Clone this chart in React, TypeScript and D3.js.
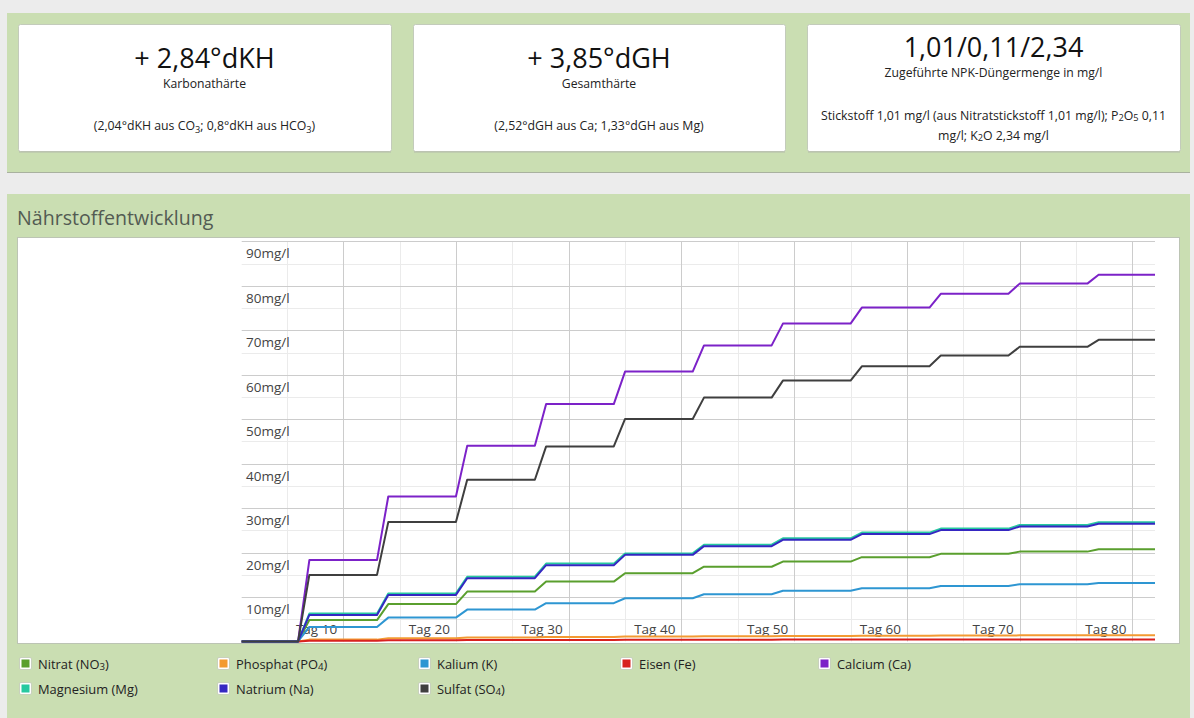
import React from "react";
import * as d3 from "d3";

// ---------- data ----------
const doseDays = [7, 14, 21, 28, 35, 42, 49, 56, 63, 70, 77];
const firstDay = 1;
const lastDay = 82;

const nitrat = [4.8, 8.4, 11.2, 13.45, 15.35, 16.8, 17.95, 18.95, 19.7, 20.2, 20.75];
const phosphat = [0.4, 0.7, 0.9, 1.0, 1.1, 1.18, 1.24, 1.29, 1.33, 1.36, 1.38];
const kalium = [3.25, 5.35, 7.15, 8.6, 9.7, 10.6, 11.4, 11.97, 12.48, 12.87, 13.16];
const eisen = [0.15, 0.25, 0.3, 0.34, 0.37, 0.39, 0.41, 0.42, 0.43, 0.44, 0.45];
const calcium = [18.3, 32.6, 44.0, 53.4, 60.7, 66.6, 71.5, 75.1, 78.2, 80.5, 82.5];
const magnesium = [6.25, 10.8, 14.55, 17.5, 19.8, 21.75, 23.2, 24.48, 25.38, 26.2, 26.8];
const natrium = [5.95, 10.46, 14.22, 17.15, 19.47, 21.43, 22.85, 24.14, 25.04, 25.85, 26.46];
const sulfat = [14.96, 26.84, 36.37, 43.88, 50.05, 54.85, 58.68, 61.9, 64.32, 66.28, 67.86];

const seriesNames = [
  "Nitrat (NO_3)",
  "Phosphat (PO_4)",
  "Kalium (K)",
  "Eisen (Fe)",
  "Calcium (Ca)",
  "Magnesium (Mg)",
  "Natrium (Na)",
  "Sulfat (SO_4)",
];
const seriesValues = [nitrat, phosphat, kalium, eisen, calcium, magnesium, natrium, sulfat];
const seriesColors = ["#5a9f2e", "#f39a32", "#2e96d2", "#d8211f", "#7c22c8", "#27c9a0", "#3527c2", "#3f3f3f"];

const yTicks = [10, 20, 30, 40, 50, 60, 70, 80, 90];
const yMinor = [5, 15, 25, 35, 45, 55, 65, 75, 85];
const xTicks = [10, 20, 30, 40, 50, 60, 70, 80];
const xMinor = [5, 15, 25, 35, 45, 55, 65, 75];

const cards = [
  {
    big: "+ 2,84°dKH",
    label: "Karbonathärte",
    lines: ["(2,04°dKH aus CO_3; 0,8°dKH aus HCO_3)"],
  },
  {
    big: "+ 3,85°dGH",
    label: "Gesamthärte",
    lines: ["(2,52°dGH aus Ca; 1,33°dGH aus Mg)"],
  },
  {
    big: "1,01/0,11/2,34",
    label: "Zugeführte NPK-Düngermenge in mg/l",
    lines: ["Stickstoff 1,01 mg/l (aus Nitratstickstoff 1,01 mg/l); P_2O_5 0,11", "mg/l; K_2O 2,34 mg/l"],
  },
];

const FONT = "'Open Sans', 'Noto Sans', sans-serif";

// text with "_d" subscripts
function Rich({ text, size, shift }: { text: string; size: number; shift: number }) {
  const parts = text.split(/_(\d)/);
  const out: any[] = [];
  let lowered = false;
  parts.forEach((p, i) => {
    if (i % 2 === 0) {
      if (p || lowered) {
        out.push(
          <tspan key={i} dy={lowered ? -shift : undefined}>
            {p}
          </tspan>
        );
        lowered = false;
      }
    } else {
      out.push(
        <tspan key={i} fontSize={size * 0.75} dy={lowered ? 0 : shift}>
          {p}
        </tspan>
      );
      lowered = true;
    }
  });
  return <>{out}</>;
}

function stepPoints(levels: number[]): [number, number][] {
  const pts: [number, number][] = [
    [firstDay, 0],
    [doseDays[0] - 1, 0],
  ];
  levels.forEach((v, i) => {
    const end = i < doseDays.length - 1 ? doseDays[i + 1] - 1 : lastDay;
    pts.push([doseDays[i], v]);
    pts.push([end, v]);
  });
  return pts;
}

export default function App() {
  const W = 1194;
  const H = 718;
  const plot = { left: 241.7, right: 1155, top: 241.4, bottom: 641.4 };

  const x = d3.scaleLinear().domain([firstDay, lastDay]).range([plot.left, plot.right]);
  const y = d3.scaleLinear().domain([0, 90]).range([plot.bottom, plot.top]);
  const line = d3
    .line<[number, number]>()
    .x((d) => x(d[0]))
    .y((d) => y(d[1]));

  const cardGeom = [
    { x: 18, w: 373 },
    { x: 413, w: 372 },
    { x: 807, w: 373 },
  ];

  const legendCols = [20, 218, 419, 621, 819];
  const legendRows = [664, 689];

  return (
    <div style={{ position: "absolute", left: 0, top: 0, width: W, height: H }}>
      <svg width={W} height={H} style={{ display: "block", fontFamily: FONT }}>
        <rect x={0} y={0} width={W} height={H} fill="#ececec" />
        {/* top panel */}
        <rect x={7} y={13} width={1183} height={160} fill="#cadeb2" />
        <line x1={7} x2={1190} y1={172.5} y2={172.5} stroke="#a9b19f" strokeWidth={1} />
        {cards.map((c, i) => {
          const g = cardGeom[i];
          const cx = g.x + g.w / 2;
          const three = i === 2;
          return (
            <g key={i}>
              <rect x={g.x + 0.5} y={24.5} width={g.w} height={127} fill="#fff" stroke="#c3cbbb" rx={2} />
              <line x1={g.x + 1} x2={g.x + g.w} y1={152} y2={152} stroke="#b4bba9" />
              <text x={cx} y={three ? 57 : 68} textAnchor="middle" fontSize={27} fill="#111">
                {c.big}
              </text>
              <text x={cx} y={three ? 77 : 87.5} textAnchor="middle" fontSize={12.2} fill="#222">
                {c.label}
              </text>
              {c.lines.map((l, j) => (
                <text
                  key={j}
                  x={cx}
                  y={(three ? 120 : 130) + j * 20}
                  textAnchor="middle"
                  fontSize={12.3}
                  fill="#222"
                >
                  <Rich text={l} size={12.3} shift={three ? 1 : 3} />
                </text>
              ))}
            </g>
          );
        })}

        {/* bottom panel */}
        <rect x={7} y={194} width={1183} height={H - 194} fill="#cadeb2" />
        <text x={17} y={225} fontSize={19.6} fill="#535b53">
          Nährstoffentwicklung
        </text>
        <rect x={17.5} y={237.5} width={1162} height={406} fill="#fff" stroke="#bcc4b4" />

        {/* grid */}
        {yMinor.map((v) => (
          <line key={"ym" + v} x1={plot.left} x2={plot.right} y1={Math.round(y(v)) + 0.5} y2={Math.round(y(v)) + 0.5} stroke="#ebebeb" />
        ))}
        {xMinor.map((d) => (
          <line key={"xm" + d} x1={Math.round(x(d)) + 0.5} x2={Math.round(x(d)) + 0.5} y1={plot.top} y2={plot.bottom} stroke="#ebebeb" />
        ))}
        {yTicks.map((v) => (
          <line key={"y" + v} x1={plot.left} x2={plot.right} y1={Math.round(y(v)) + 0.5} y2={Math.round(y(v)) + 0.5} stroke="#cccccc" />
        ))}
        {xTicks.map((d) => (
          <line key={"x" + d} x1={Math.round(x(d)) + 0.5} x2={Math.round(x(d)) + 0.5} y1={plot.top} y2={plot.bottom} stroke="#cccccc" />
        ))}

        {/* axis labels */}
        {yTicks.map((v) => (
          <text key={"yl" + v} x={246} y={y(v) + 17} fontSize={13.5} fill="#444">
            {v}mg/l
          </text>
        ))}
        {xTicks.map((d) => (
          <text key={"xl" + d} x={x(d) - 6} y={634} fontSize={13.5} fill="#444" textAnchor="end">
            Tag {d}
          </text>
        ))}

        {/* series */}
        {seriesValues.map((vals, i) => (
          <path
            key={"s" + i}
            d={line(stepPoints(vals)) || ""}
            fill="none"
            stroke={seriesColors[i]}
            strokeWidth={2}
            strokeLinejoin="round"
          />
        ))}

        {/* legend */}
        {seriesNames.map((n, i) => {
          const col = i % 5;
          const row = Math.floor(i / 5);
          const lx = legendCols[col];
          const ly = legendRows[row];
          return (
            <g key={"lg" + i}>
              <rect x={lx - 0.5} y={ly - 6.5} width={12} height={12} fill="#fff" stroke="#c0c8b8" strokeWidth={0.8} rx={1.5} />
              <rect x={lx + 1.5} y={ly - 4.5} width={8} height={8} fill={seriesColors[i]} />
              <text x={lx + 18} y={ly + 4.5} fontSize={12.9} fill="#222">
                <Rich text={n} size={12.9} shift={1.5} />
              </text>
            </g>
          );
        })}
      </svg>
    </div>
  );
}
